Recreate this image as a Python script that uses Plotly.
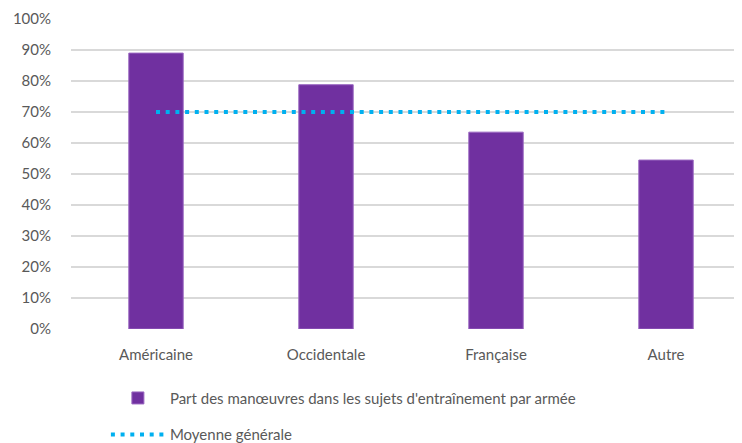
import plotly.graph_objects as go

armees = ["Américaine", "Occidentale", "Française", "Autre"]
part_manoeuvres = [89.0, 78.8, 63.5, 54.5]
moyenne = [70, 70, 70, 70]

violet = "#7030A0"
bleu = "#00B0F0"
gris = "#595959"

fig = go.Figure()

fig.add_trace(go.Bar(
    x=armees, y=part_manoeuvres,
    name="Part des manœuvres dans les sujets d'entraînement par armée",
    marker=dict(color=violet, line=dict(color="#9966C0", width=1)),
    width=0.32, legendgroup="a",
))
fig.add_trace(go.Scatter(
    x=armees, y=moyenne, mode="lines",
    name="Moyenne générale",
    line=dict(color=bleu, width=4, dash="4px,5.7px"),
    legendgroup="b",
))

# the page adds an 8px body margin, so the figure is a bit smaller
fig.update_layout(
    width=734, height=435,
    margin=dict(l=63, r=0, t=11, b=114, autoexpand=False),
    plot_bgcolor="white", paper_bgcolor="white",
    font=dict(family="Lato", size=15, color=gris),
    showlegend=True,
    legend=dict(
        x=0.052, y=-0.17, xanchor="left", yanchor="top",
        orientation="v", tracegroupgap=14, itemwidth=54,
        font=dict(size=15, color=gris),
    ),
    bargap=0.68,
)
fig.update_yaxes(
    range=[0, 100], dtick=10, ticksuffix="%",
    showgrid=True, gridcolor="#D9D9D9", gridwidth=1.5,
    zeroline=False, showline=False, automargin=False,
    ticks="outside", ticklen=16, tickcolor="rgba(0,0,0,0)",
)
fig.update_xaxes(
    range=[-0.5, 3.447],
    showgrid=False, showline=False, zeroline=False, automargin=False,
    ticks="outside", ticklen=12, tickcolor="rgba(0,0,0,0)",
)

fig.write_html("out.html")
